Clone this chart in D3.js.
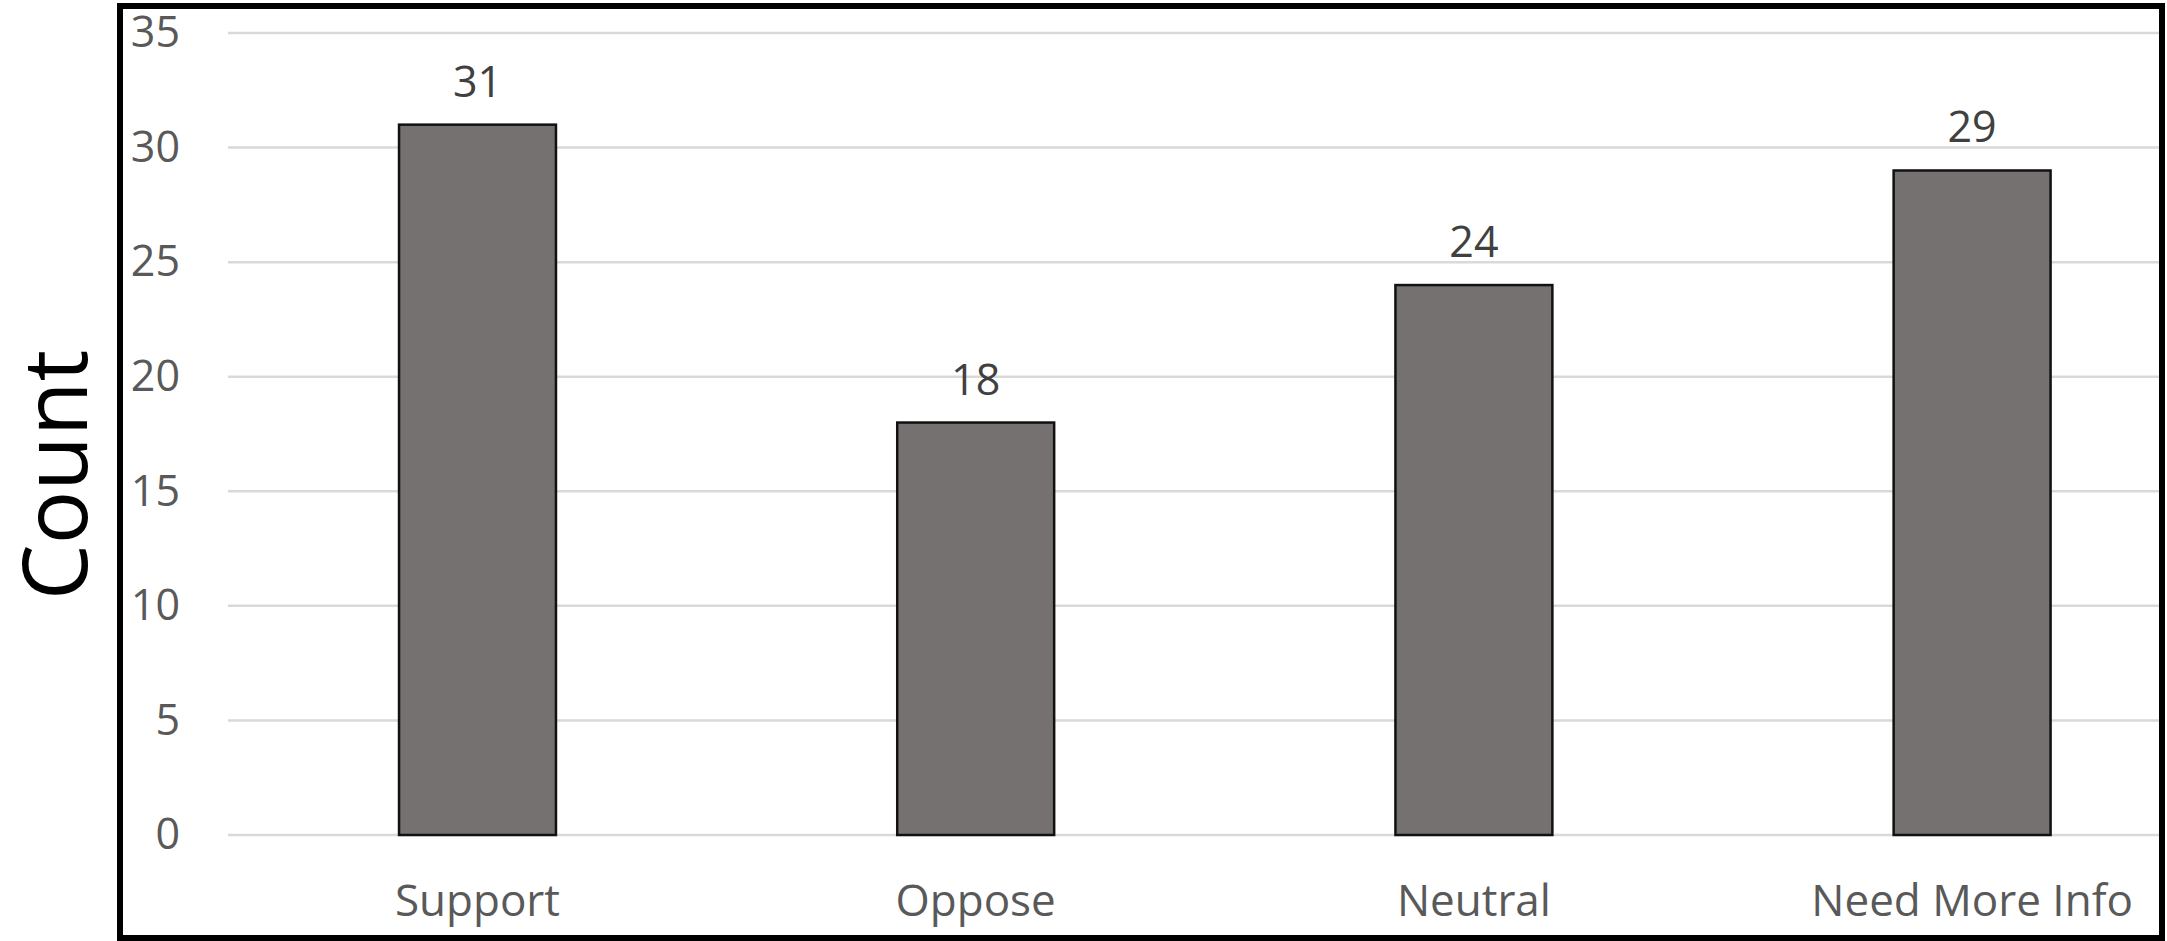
<!DOCTYPE html>
<html>
<head>
<meta charset="utf-8">
<script src="https://cdn.jsdelivr.net/npm/d3@7"></script>
<style>
  html, body { margin: 0; padding: 0; background: #fff; }
  svg { display: block; }
</style>
</head>
<body>
<script>
const categories = ["Support", "Oppose", "Neutral", "Need More Info"];
const counts = [31, 18, 24, 29];
const yTicks = [0, 5, 10, 15, 20, 25, 30, 35];
const yTitle = "Count";

const W = 2167, H = 941;
const svg = d3.select("body").append("svg").attr("width", W).attr("height", H);

const x = d3.scaleBand().domain(categories).range([228.4, 2221.2])
  .paddingInner(0.685).paddingOuter(0.3425);
const y = d3.scaleLinear().domain([0, 35]).range([835, 33]);

svg.append("defs").append("clipPath").attr("id", "clip")
  .append("rect").attr("x", 120).attr("y", 6).attr("width", 2042).attr("height", 932);

const g = svg.append("g").attr("clip-path", "url(#clip)");

// gridlines
g.append("g").selectAll("line").data(yTicks).join("line")
  .attr("x1", 228).attr("x2", 2221)
  .attr("y1", d => y(d)).attr("y2", d => y(d))
  .attr("stroke", "#d9d9d9").attr("stroke-width", 2.5);

// y tick labels via axis
const yAxis = d3.axisLeft(y).tickValues(yTicks).tickSize(0).tickPadding(0);
const ya = svg.append("g").attr("transform", "translate(180,0)").call(yAxis);
ya.select(".domain").remove();
ya.selectAll("text")
  .attr("font-family", "'Open Sans', sans-serif")
  .attr("font-size", 43).attr("fill", "#595959");

// bars
g.append("g").selectAll("rect").data(counts).join("rect")
  .attr("x", (d, i) => x(categories[i]))
  .attr("width", x.bandwidth())
  .attr("y", d => y(d))
  .attr("height", d => y(0) - y(d))
  .attr("fill", "#767171")
  .attr("stroke", "#111").attr("stroke-width", 2.5);

// value labels
g.append("g").selectAll("text").data(counts).join("text")
  .attr("x", (d, i) => x(categories[i]) + x.bandwidth() / 2)
  .attr("y", d => y(d) - 28)
  .attr("text-anchor", "middle")
  .attr("font-family", "'Open Sans', sans-serif")
  .attr("font-size", 43).attr("fill", "#404040")
  .text(d => d);

// category labels via axis
const xAxis = d3.axisBottom(x).tickSize(0).tickPadding(0);
const xa = g.append("g").attr("transform", "translate(0,916)").call(xAxis);
xa.select(".domain").remove();
xa.selectAll("text")
  .attr("dy", 0).attr("y", 0)
  .attr("font-family", "'Open Sans', sans-serif")
  .attr("font-size", 44).attr("fill", "#595959");

// border
svg.append("rect").attr("x", 120).attr("y", 6).attr("width", 2042).attr("height", 932)
  .attr("fill", "none").attr("stroke", "#000").attr("stroke-width", 6);

// y title
svg.append("text")
  .attr("transform", "translate(87,475) rotate(-90)")
  .attr("text-anchor", "middle")
  .attr("font-family", "'Open Sans', sans-serif")
  .attr("font-size", 89).attr("fill", "#000")
  .text(yTitle);
</script>
</body>
</html>
